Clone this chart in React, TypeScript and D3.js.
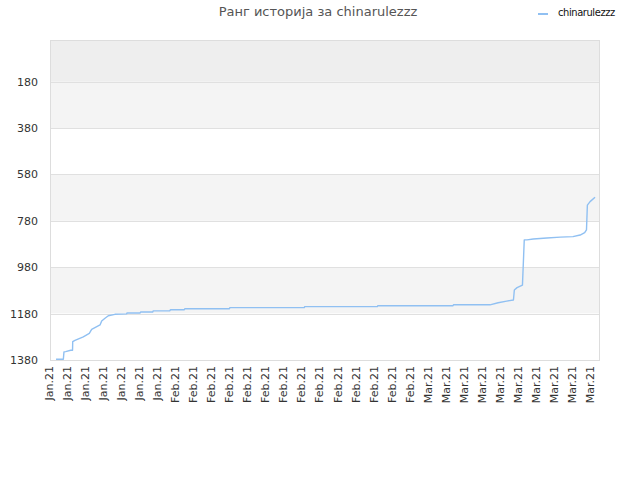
import React, { useRef, useEffect } from "react";
import * as d3 from "d3";

const title = "Ранг историја за chinarulezzz";
const seriesName = "chinarulezzz";

// x labels, one every two days
const xLabels = [
  "Jan.21", "Jan.21", "Jan.21", "Jan.21", "Jan.21", "Jan.21", "Jan.21",
  "Feb.21", "Feb.21", "Feb.21", "Feb.21", "Feb.21", "Feb.21", "Feb.21",
  "Feb.21", "Feb.21", "Feb.21", "Feb.21", "Feb.21", "Feb.21", "Feb.21",
  "Mar.21", "Mar.21", "Mar.21", "Mar.21", "Mar.21", "Mar.21", "Mar.21",
  "Mar.21", "Mar.21", "Mar.21",
];
const yTicks = [180, 380, 580, 780, 980, 1180, 1380];

// day offset from first label, rank
const days = [
  0.67, 1.48, 1.55, 1.74, 2.3, 2.5, 2.52, 2.77, 3.69, 4.36, 4.62, 5.55, 5.73,
  6.1, 6.47, 7.2, 8.5, 8.55, 10, 10.05, 11.4, 11.45, 13.3, 13.35, 14.9, 14.95,
  19.9, 19.95, 28.2, 28.25, 36.3, 36.35, 44.7, 44.75, 48.8, 49.7, 50.65, 51.4,
  51.5, 51.8, 52.4, 52.6, 52.9, 53.6, 55.1, 56.6, 58.0, 58.8, 59.3, 59.5, 59.6,
  59.9, 60.45,
];
const ranks = [
  1377, 1377, 1345, 1344, 1338, 1338, 1301, 1295, 1280, 1265, 1248, 1229, 1212,
  1200, 1189, 1183, 1181, 1177, 1177, 1173, 1173, 1168, 1168, 1163, 1163, 1159,
  1159, 1154, 1154, 1150, 1150, 1146, 1146, 1142, 1142, 1133, 1126, 1121, 1078,
  1068, 1057, 862, 862, 858, 854, 850, 848, 841, 831, 819, 712, 697, 678,
];

const W = 640;
const H = 480;
const margin = { top: 40, right: 40, bottom: 120, left: 50 };

const App = () => {
  const ref = useRef<SVGSVGElement | null>(null);

  useEffect(() => {
    if (!ref.current) return;
    const svg = d3.select(ref.current);
    svg.selectAll("*").remove();

    const iw = W - margin.left - margin.right;
    const ih = H - margin.top - margin.bottom;
    const x = d3.scaleLinear().domain([0, 61]).range([0, iw]);
    const y = d3.scaleLinear().domain([0, 1380]).range([0, ih]);

    const chart = svg
      .append("g")
      .attr("transform", `translate(${margin.left},${margin.top})`);

    // alternating bands
    const bands = [0, ...yTicks];
    for (let i = 0; i < bands.length - 1; i++) {
      const fill = i === 0 ? "#eeeeee" : i % 2 === 1 ? "#f4f4f4" : "#ffffff";
      chart
        .append("rect")
        .attr("x", 0)
        .attr("y", y(bands[i]))
        .attr("width", iw)
        .attr("height", y(bands[i + 1]) - y(bands[i]))
        .attr("fill", fill);
    }

    // grid lines
    chart
      .selectAll(".grid")
      .data(yTicks)
      .enter()
      .append("line")
      .attr("x1", 0)
      .attr("x2", iw)
      .attr("y1", (d) => Math.round(y(d)) + 0.5)
      .attr("y2", (d) => Math.round(y(d)) + 0.5)
      .attr("stroke", "#e0e0e0");

    // border
    chart
      .append("rect")
      .attr("x", 0.5)
      .attr("y", 0.5)
      .attr("width", iw - 1)
      .attr("height", ih)
      .attr("fill", "none")
      .attr("stroke", "#dddddd");

    // y labels
    chart
      .selectAll(".ylab")
      .data(yTicks)
      .enter()
      .append("text")
      .attr("x", -12)
      .attr("y", (d) => y(d) + 4)
      .attr("text-anchor", "end")
      .style("font-family", "DejaVu Sans")
      .style("font-size", "11px")
      .style("fill", "#333")
      .text((d) => d);

    // x labels
    chart
      .selectAll(".xlab")
      .data(xLabels)
      .enter()
      .append("text")
      .attr(
        "transform",
        (_, i) => `translate(${x(i * 2) + 3},${ih + 6}) rotate(-90)`
      )
      .attr("text-anchor", "end")
      .style("font-family", "DejaVu Sans")
      .style("font-size", "11px")
      .style("fill", "#333")
      .text((d) => d);

    // line
    const pts = days.map((d, i) => [d, ranks[i]] as [number, number]);
    const line = d3
      .line<[number, number]>()
      .x((d) => x(d[0]))
      .y((d) => y(d[1]));
    chart
      .append("path")
      .datum(pts)
      .attr("fill", "none")
      .attr("stroke", "#90c0f2")
      .attr("stroke-width", 1.4)
      .attr("stroke-linejoin", "round")
      .attr("d", line);

    // title
    svg
      .append("text")
      .attr("x", 318)
      .attr("y", 16)
      .attr("text-anchor", "middle")
      .style("font-family", "DejaVu Sans")
      .style("font-size", "13px")
      .style("fill", "#555")
      .text(title);

    // legend
    svg
      .append("line")
      .attr("x1", 538)
      .attr("x2", 548)
      .attr("y1", 14)
      .attr("y2", 14)
      .attr("stroke", "#90c0f2")
      .attr("stroke-width", 2);
    svg
      .append("text")
      .attr("x", 558)
      .attr("y", 16)
      .style("font-family", "DejaVu Sans Condensed")
      .style("font-size", "11px")
      .style("letter-spacing", "-0.4px")
      .style("fill", "#111")
      .text(seriesName);
  }, []);

  return (
    <svg
      ref={ref}
      width={W}
      height={H}
      style={{ position: "absolute", left: 0, top: 0, background: "#fff" }}
    />
  );
};

export default App;
